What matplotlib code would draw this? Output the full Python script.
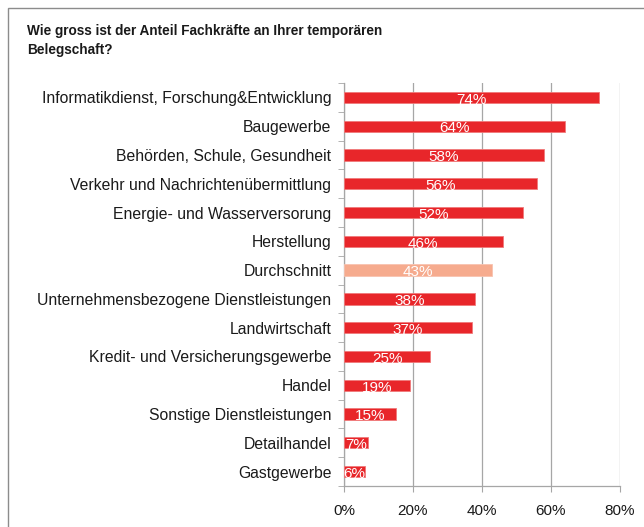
import numpy as np
import matplotlib.pyplot as plt
from matplotlib.patches import Rectangle

plt.rcParams['font.family'] = ['Liberation Sans', 'DejaVu Sans']

# data, top to bottom as in the picture
categories = [
    "Informatikdienst, Forschung&Entwicklung",
    "Baugewerbe",
    "Behörden, Schule, Gesundheit",
    "Verkehr und Nachrichtenübermittlung",
    "Energie- und Wasserversorung",
    "Herstellung",
    "Durchschnitt",
    "Unternehmensbezogene Dienstleistungen",
    "Landwirtschaft",
    "Kredit- und Versicherungsgewerbe",
    "Handel",
    "Sonstige Dienstleistungen",
    "Detailhandel",
    "Gastgewerbe",
]
values = [74, 64, 58, 56, 52, 46, 43, 38, 37, 25, 19, 15, 7, 6]
xticks = [0, 20, 40, 60, 80]
title = "Wie gross ist der Anteil Fachkräfte an Ihrer temporären\nBelegschaft?"

red = "#E8262A"
avg = "#F6AB8E"
grey = "#A6A6A6"

fig = plt.figure(figsize=(6.44, 5.27), dpi=100)
fig.patches.append(Rectangle((8 / 644, -0.1), 1.2, 1 - 8 / 527 + 0.1,
                             transform=fig.transFigure, fill=False,
                             edgecolor="#8C8C8C", linewidth=1.0))
fig.text(27 / 644, 1 - 24 / 527, title, fontsize=9.8, fontweight="bold",
         va="top", ha="left", color="#1a1a1a", linespacing=1.45)

ax = fig.add_axes([344 / 644, 1 - 486 / 527, 276 / 644, 403 / 527])

n = len(categories)
y = np.arange(n)
colors = [avg if c == "Durchschnitt" else red for c in categories]
edges = ["#F8C3B0" if c == "Durchschnitt" else "#F07A7A" for c in categories]
ax.barh(y, values, height=0.39, color=colors, edgecolor=edges, linewidth=0.6, zorder=3)

for yi, v in zip(y, values):
    ax.text(v / 2, yi + 0.08, f"{v}%", ha="center", va="center",
            color="white", fontsize=11, zorder=4)

ax.set_xlim(0, 80)
ax.set_ylim(n - 0.5, -0.5)
ax.set_xticks(xticks)
ax.set_xticklabels([f"{t}%" for t in xticks], fontsize=11, color="#1a1a1a")
ax.set_yticks(y)
ax.set_yticklabels(categories, fontsize=11.3, color="#1a1a1a")
ax.set_yticks(np.arange(-0.5, n, 1), minor=True)
ax.tick_params(axis="y", which="major", length=0, pad=9)
ax.tick_params(axis="y", which="minor", length=4, color=grey)
ax.tick_params(axis="x", which="major", length=4, color=grey, pad=9)

ax.grid(axis="x", color=grey, linewidth=0.9, zorder=0)
for s in ["top", "right"]:
    ax.spines[s].set_visible(False)
for s in ["left", "bottom"]:
    ax.spines[s].set_color(grey)
    ax.spines[s].set_linewidth(0.9)

fig.savefig("out.png", dpi=100)
